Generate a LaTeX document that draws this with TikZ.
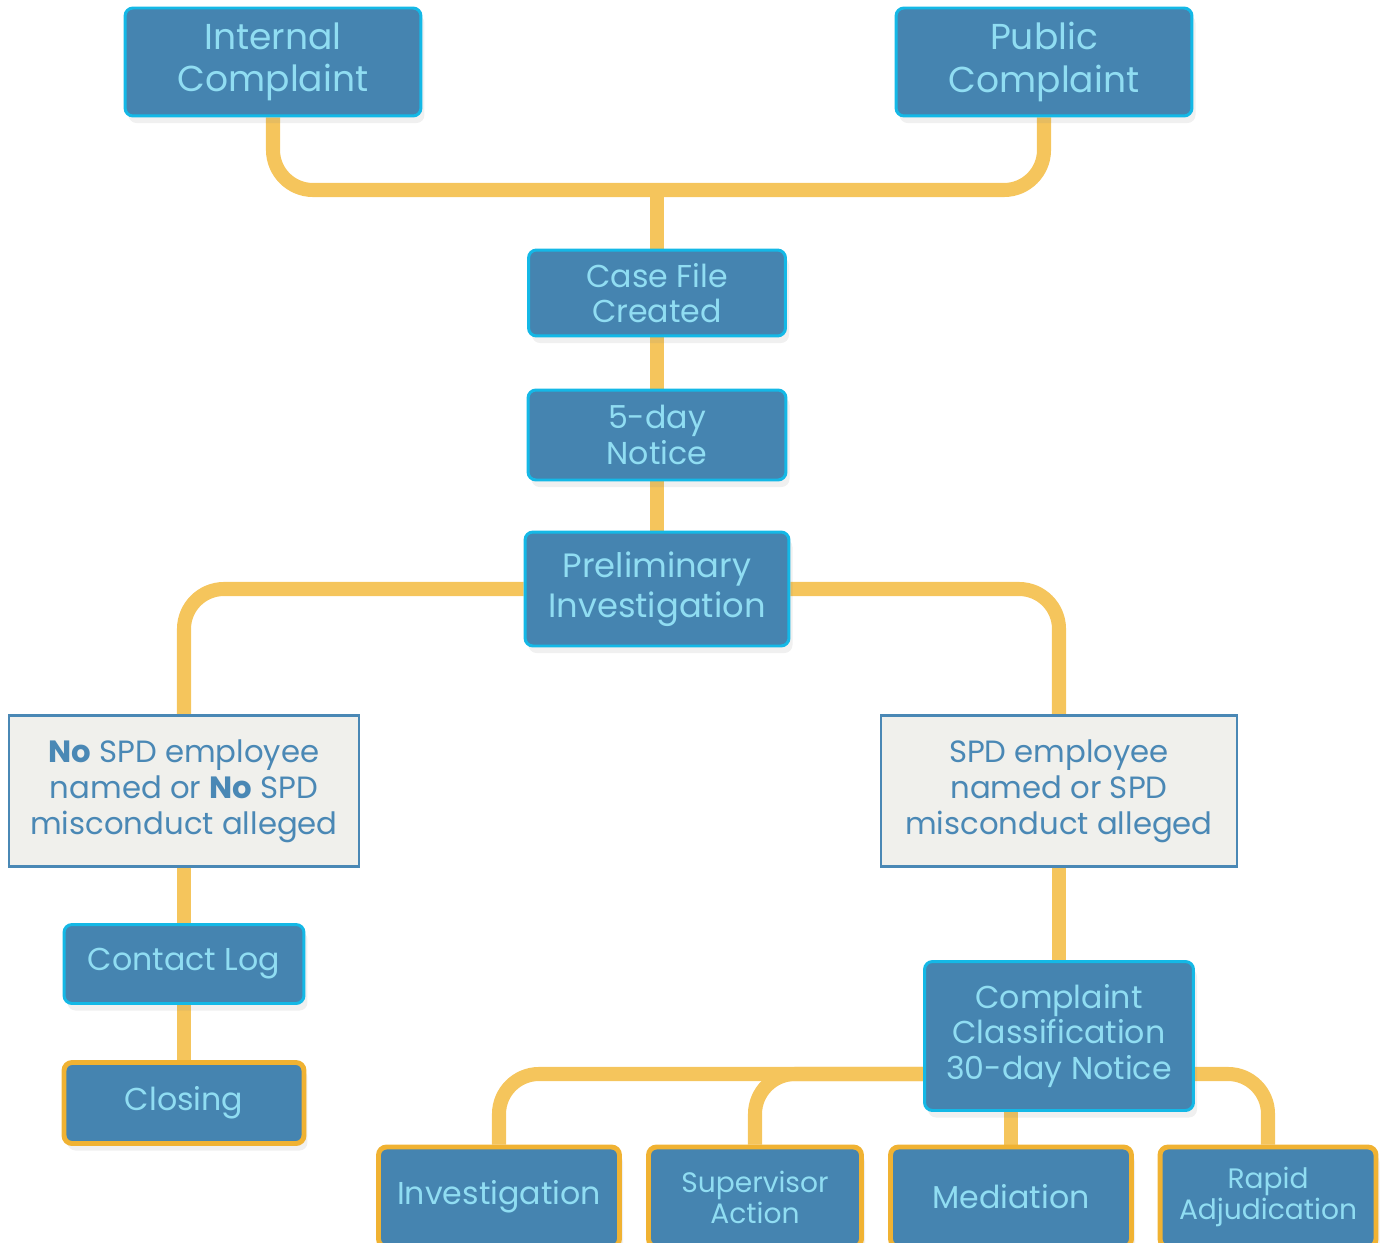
\documentclass[tikz,border=0pt]{standalone}
\usepackage{fontspec}
\setmainfont{Poppins}
\usepackage{tikz}
\usetikzlibrary{positioning, calc, shadows, backgrounds}
\definecolor{boxblue}{HTML}{4584B0}
\definecolor{boxedge}{HTML}{14B8E6}
\definecolor{boxtext}{HTML}{90DDF2}
\definecolor{linkgold}{HTML}{F5C55C}
\definecolor{endedge}{HTML}{F0B232}
\definecolor{condfill}{HTML}{F0F0EC}
\definecolor{condedge}{HTML}{4A88B5}
\tikzset{
  stepbox/.style={draw=boxedge, line width=1.7pt, fill=boxblue, rounded corners=0.16cm,
    text=boxtext, align=center, inner sep=2pt,
    drop shadow={opacity=0.12, shadow xshift=2pt, shadow yshift=-4pt}},
  endbox/.style={stepbox, draw=endedge, line width=2.8pt},
  condbox/.style={draw=condedge, line width=1.4pt, fill=condfill, text=condedge,
    align=center, inner sep=2pt, font=\fontsize{17.5}{20.5}\selectfont},
  link/.style={draw=linkgold, line width=8pt, rounded corners=0.8cm},
  big/.style={font=\fontsize{20.5}{24}\selectfont},
  mid/.style={font=\fontsize{19.2}{22.5}\selectfont},
  std/.style={font=\fontsize{18}{20}\selectfont},
  sml/.style={font=\fontsize{16}{17.6}\selectfont}
}
\begin{document}
\begin{tikzpicture}[x=0.02cm, y=-0.02cm]
  \clip (0,0) rectangle (1385,1243);
  % Intake
  \node[stepbox, big, minimum width=5.92cm, minimum height=2.16cm] (ic) at (273,62) {Internal\\Complaint};
  \node[stepbox, big, minimum width=5.92cm, minimum height=2.16cm] (pc) at (1044,62) {Public\\Complaint};
  \node[stepbox, std, minimum width=5.14cm, minimum height=1.72cm] (cf) at (657,293) {Case File\\Created};
  \node[stepbox, std, minimum width=5.16cm, minimum height=1.8cm] (fd) at (657,435) {5-day\\Notice};
  \node[stepbox, mid, minimum width=5.28cm, minimum height=2.28cm] (pi) at (657,589) {Preliminary\\Investigation};
  % Conditions
  \node[condbox, minimum width=7cm, minimum height=3.02cm] (nospd) at (184,791)
    {\textbf{No} SPD employee\\named or \textbf{No} SPD\\misconduct alleged};
  \node[condbox, minimum width=7.12cm, minimum height=3.02cm] (spd) at (1059,791)
    {SPD employee\\named or SPD\\misconduct alleged};
  % Left branch
  \node[stepbox, std, minimum width=4.8cm, minimum height=1.58cm] (cl) at (184,964) {Contact Log};
  \node[endbox, std, minimum width=4.8cm, minimum height=1.62cm] (clo) at (184,1103) {Closing};
  % Right branch
  \node[stepbox, std, minimum width=5.38cm, minimum height=2.98cm] (cc) at (1059,1036)
    {Complaint\\Classification\\30-day Notice};
  \node[endbox, std, minimum width=4.82cm, minimum height=2cm] (inv) at (499,1197) {Investigation};
  \node[endbox, sml, minimum width=4.26cm, minimum height=2cm] (sa) at (755,1197) {Supervisor\\Action};
  \node[endbox, std, minimum width=4.82cm, minimum height=2cm] (med) at (1011,1197) {Mediation};
  \node[endbox, sml, minimum width=4.32cm, minimum height=2cm] (ra) at (1268,1197) {Rapid\\Adjudication};
  % Connectors
  \coordinate (topj) at (657,190);
  \coordinate (ccl) at ($(cc.west)!0.5!(cc.south west)$);
  \coordinate (ccr) at ($(cc.east)!0.5!(cc.south east)$);
  \begin{scope}[on background layer]
    \draw[link] (ic.south) |- (topj) -| (pc.south);
    \draw[link] (topj) -- (cf.north);
    \draw[link] (cf.south) -- (fd.north);
    \draw[link] (fd.south) -- (pi.north);
    \draw[link] (pi.west) -| (nospd.north);
    \draw[link] (pi.east) -| (spd.north);
    \draw[link] (nospd.south) -- (cl.north);
    \draw[link] (cl.south) -- (clo.north);
    \draw[link] (spd.south) -- (cc.north);
    \draw[link] (ccl) -| (inv.north);
    \draw[link] (ccl) -| (sa.north);
    \draw[link] (cc.south -| med.north) -- (med.north);
    \draw[link] (ccr) -| (ra.north);
  \end{scope}
\end{tikzpicture}
\end{document}
